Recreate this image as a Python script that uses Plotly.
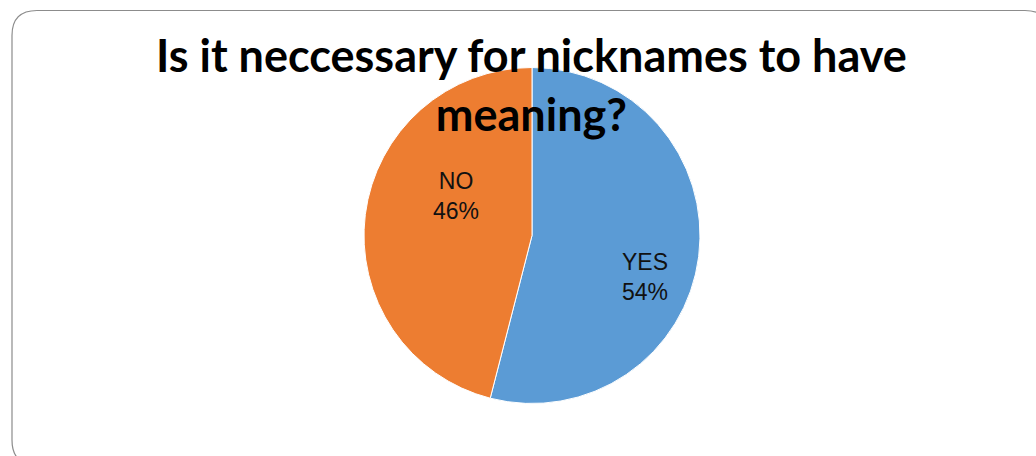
import plotly.graph_objects as go

# Survey answers
labels = ["YES", "NO"]
values = [54, 46]
colors = ["#5B9BD5", "#ED7D31"]
title_text = "Is it neccessary for nicknames to have<br>meaning?"

W, H = 1036, 456

# pie geometry in pixels
cx, cy, r = 532, 235.5, 168

fig = go.Figure(
    go.Pie(
        labels=labels,
        values=values,
        sort=False,
        direction="clockwise",
        rotation=0,
        marker=dict(colors=colors, line=dict(color="white", width=1)),
        textinfo="none",
        hoverinfo="label+percent",
        showlegend=False,
        domain=dict(
            x=[(cx - r) / W, (cx + r) / W],
            y=[1 - (cy + r) / H, 1 - (cy - r) / H],
        ),
    )
)

total = sum(values)
label_pos = {"YES": (645, 277), "NO": (456, 196)}
annotations = []
for lab, val in zip(labels, values):
    px, py = label_pos[lab]
    annotations.append(
        dict(
            x=px / W, y=1 - py / H, xref="paper", yref="paper",
            text=f"{lab}<br>{round(100 * val / total)}%",
            showarrow=False,
            font=dict(family="Liberation Sans", size=23, color="#111111"),
            align="center",
        )
    )

# chart title
annotations.append(
    dict(
        x=531 / W, y=1 - 26 / H, xref="paper", yref="paper",
        xanchor="center", yanchor="top",
        text=f"<b>{title_text}</b>",
        showarrow=False,
        font=dict(family="Lato", size=45, color="black"),
        align="center",
    )
)

# rounded frame around the chart area
x0, y0, x1, y1, rad = 12, 10.5, 1050, 465, 25
def P(x, y):
    return f"{x / W:.5f},{1 - y / H:.5f}"
path = (
    f"M {P(x0, y0 + rad)} Q {P(x0, y0)} {P(x0 + rad, y0)} "
    f"L {P(x1 - rad, y0)} Q {P(x1, y0)} {P(x1, y0 + rad)} "
    f"L {P(x1, y1 - rad)} Q {P(x1, y1)} {P(x1 - rad, y1)} "
    f"L {P(x0 + rad, y1)} Q {P(x0, y1)} {P(x0, y1 - rad)} Z"
)

fig.update_layout(
    width=W, height=H,
    margin=dict(l=0, r=0, t=0, b=0),
    paper_bgcolor="white",
    plot_bgcolor="white",
    annotations=annotations,
    shapes=[dict(type="path", xref="paper", yref="paper", path=path,
                 line=dict(color="#8c8c8c", width=1.2), layer="above")],
)

fig.write_html("out.html")
